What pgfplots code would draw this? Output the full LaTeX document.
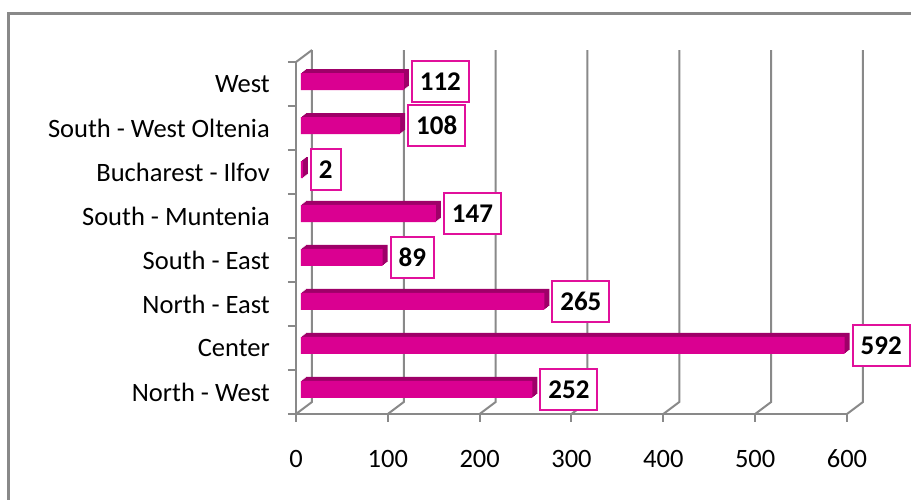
\documentclass[border=0pt]{standalone}
\usepackage{fontspec}
\setmainfont{Carlito}
\usepackage{pgfplots}
\usepackage{pgfplotstable}
\pgfplotsset{compat=1.18}
\definecolor{barc}{RGB}{218,0,145}
\definecolor{bardark}{RGB}{158,0,104}
\definecolor{gridg}{RGB}{137,137,137}
\definecolor{boxc}{RGB}{225,16,155}
\pgfplotstableread{
y v
1 252
2 592
3 265
4 89
5 147
6 2
7 108
8 112
}\data
\begin{document}
\begin{tikzpicture}[x=1pt,y=1pt]
\useasboundingbox (0,0) rectangle (911,500);
\draw[gridg, line width=3pt] (8,-10) -- (8,486) -- (930,486);
\begin{axis}[
 at={(296pt,86pt)}, anchor=south west,
 scale only axis, width=551pt, height=352pt,
 xmin=0, xmax=600, ymin=0.5, ymax=8.5,
 clip=false,
 axis x line*=bottom, axis y line*=left,
 axis line style={gridg, line width=2pt, -},
 xtick={0,100,200,300,400,500,600},
 ytick={0.5,1.5,2.5,3.5,4.5,5.5,6.5,7.5,8.5}, yticklabels={},
 extra y ticks={1,2,3,4,5,6,7,8},
 extra y tick labels={North - West, Center, North - East, South - East, South - Muntenia, Bucharest - Ilfov, South - West Oltenia, West},
 extra y tick style={tick style={draw=none}},
 tick align=outside, major tick length=8pt,
 tick style={gridg, line width=2pt},
 /pgf/number format/assume math mode=true,
 every tick label/.append style={font=\fontsize{26.5}{30}\selectfont},
 xticklabel style={anchor=base, inner sep=0pt, yshift=-46pt},
 yticklabel style={anchor=east, inner sep=0pt, xshift=-18pt},
]
\pgfplotsinvokeforeach{0,100,200,300,400,500,600}{
 \draw[gridg, line width=2pt] (axis cs:#1,0.5) -- ([xshift=16pt,yshift=12pt]axis cs:#1,0.5) -- ([xshift=16pt,yshift=12pt]axis cs:#1,8.5);
}
\draw[gridg, line width=2pt] (axis cs:0,8.5) -- ([xshift=16pt,yshift=12pt]axis cs:0,8.5);
\pgfplotsinvokeforeach{4,3,2,1}{
 \addplot[xbar, bar shift=0pt, bar width=17pt, fill=bardark, draw=none, xshift={5pt+1.25pt*#1}, yshift={2.5pt+1pt*#1}] table[x=v,y=y]{\data};
}
\addplot[xbar, bar shift=0pt, bar width=17pt, fill=barc, draw=none, xshift=5pt, yshift=2.5pt,
 nodes near coords, point meta=explicit symbolic,
 every node near coord/.style={anchor=west, xshift=7pt, draw=boxc, line width=2pt, fill=white, text=black, opacity=1,
   font=\bfseries\fontsize{27}{30}\selectfont, inner xsep=8pt, inner ysep=11.5pt, text height=17.5pt, text depth=0pt}]
 table[x=v,y=y,meta=v]{\data};
\end{axis}
\end{tikzpicture}
\end{document}
